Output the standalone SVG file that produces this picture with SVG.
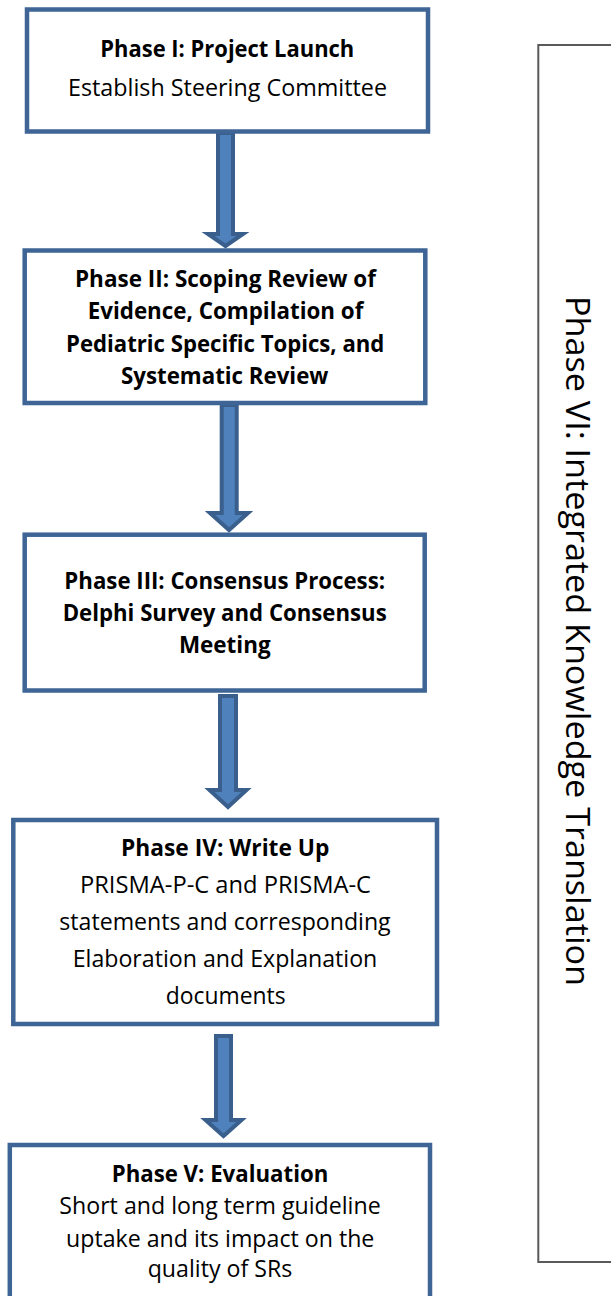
<svg xmlns="http://www.w3.org/2000/svg" width="611" height="1296" viewBox="0 0 611 1296">
<style>
.box{fill:#ffffff;stroke:#3e6595;stroke-width:4.5}
.arr{fill:#4f81bd;stroke:#3a5f8c;stroke-width:4;stroke-linejoin:miter}
.side{fill:#ffffff;stroke:#595959;stroke-width:2}
text{font-family:"Open Sans","Liberation Sans",sans-serif;font-size:24px;fill:#000000;text-anchor:middle}
.b{font-weight:bold}
.v{font-size:32px;text-anchor:start}
</style>
<rect width="611" height="1296" fill="#ffffff"/>
<g id="side-panel">
<rect class="side" x="538.3" y="45" width="90" height="1217"/>
<text class="v" transform="translate(566,296) rotate(90)" textLength="690" lengthAdjust="spacingAndGlyphs">Phase VI: Integrated Knowledge Translation</text>
</g>
<g id="connectors">
<polygon class="arr" points="218,133 233,133 233,234 243,234 225.5,246 208,234 218,234"/>
<polygon class="arr" points="221.7,405 236.7,405 236.7,513 248,513 229,530 210,513 221.7,513"/>
<polygon class="arr" points="220,696 236,696 236,790 246.5,790 228,807 209.5,790 220,790"/>
<polygon class="arr" points="216,1036 231,1036 231,1120 241.5,1120 223.5,1136 205.5,1120 216,1120"/>
</g>
<g id="phase1">
<rect class="box" x="27" y="9.5" width="401" height="122"/>
<text class="b" x="227.3" y="57" textLength="254" lengthAdjust="spacingAndGlyphs">Phase I: Project Launch</text>
<text x="227.5" y="96" textLength="319" lengthAdjust="spacingAndGlyphs">Establish Steering Committee</text>
</g>
<g id="phase2">
<rect class="box" x="24.7" y="250.5" width="400.6" height="152.5"/>
<text class="b" x="225.5" y="286.7" textLength="301" lengthAdjust="spacingAndGlyphs">Phase II: Scoping Review of</text>
<text class="b" x="225.5" y="319.3" textLength="275.6" lengthAdjust="spacingAndGlyphs">Evidence, Compilation of</text>
<text class="b" x="225.2" y="351.7" textLength="318.3" lengthAdjust="spacingAndGlyphs">Pediatric Specific Topics, and</text>
<text class="b" x="224.7" y="384" textLength="207.3" lengthAdjust="spacingAndGlyphs">Systematic Review</text>
</g>
<g id="phase3">
<rect class="box" x="24.7" y="534.7" width="400" height="155.8"/>
<text class="b" x="224.7" y="589" textLength="320.7" lengthAdjust="spacingAndGlyphs">Phase III: Consensus Process:</text>
<text class="b" x="224.7" y="621" textLength="324" lengthAdjust="spacingAndGlyphs">Delphi Survey and Consensus</text>
<text class="b" x="224.8" y="653.3" textLength="91.7" lengthAdjust="spacingAndGlyphs">Meeting</text>
</g>
<g id="phase4">
<rect class="box" x="13.3" y="820" width="423.7" height="204"/>
<text class="b" x="225.2" y="856" textLength="208.3" lengthAdjust="spacingAndGlyphs">Phase IV: Write Up</text>
<text x="225.5" y="893.3" textLength="291" lengthAdjust="spacingAndGlyphs">PRISMA-P-C and PRISMA-C</text>
<text x="225" y="930" textLength="331.4" lengthAdjust="spacingAndGlyphs">statements and corresponding</text>
<text x="225" y="967.3" textLength="304.6" lengthAdjust="spacingAndGlyphs">Elaboration and Explanation</text>
<text x="225.7" y="1004" textLength="120" lengthAdjust="spacingAndGlyphs">documents</text>
</g>
<g id="phase5">
<rect class="box" x="9.8" y="1145" width="420.2" height="170"/>
<text class="b" x="220" y="1181.7" textLength="216.6" lengthAdjust="spacingAndGlyphs">Phase V: Evaluation</text>
<text x="220" y="1214" textLength="321.4" lengthAdjust="spacingAndGlyphs">Short and long term guideline</text>
<text x="220.2" y="1246.7" textLength="308.3" lengthAdjust="spacingAndGlyphs">uptake and its impact on the</text>
<text x="220" y="1277.3" textLength="144.6" lengthAdjust="spacingAndGlyphs">quality of SRs</text>
</g>
</svg>
